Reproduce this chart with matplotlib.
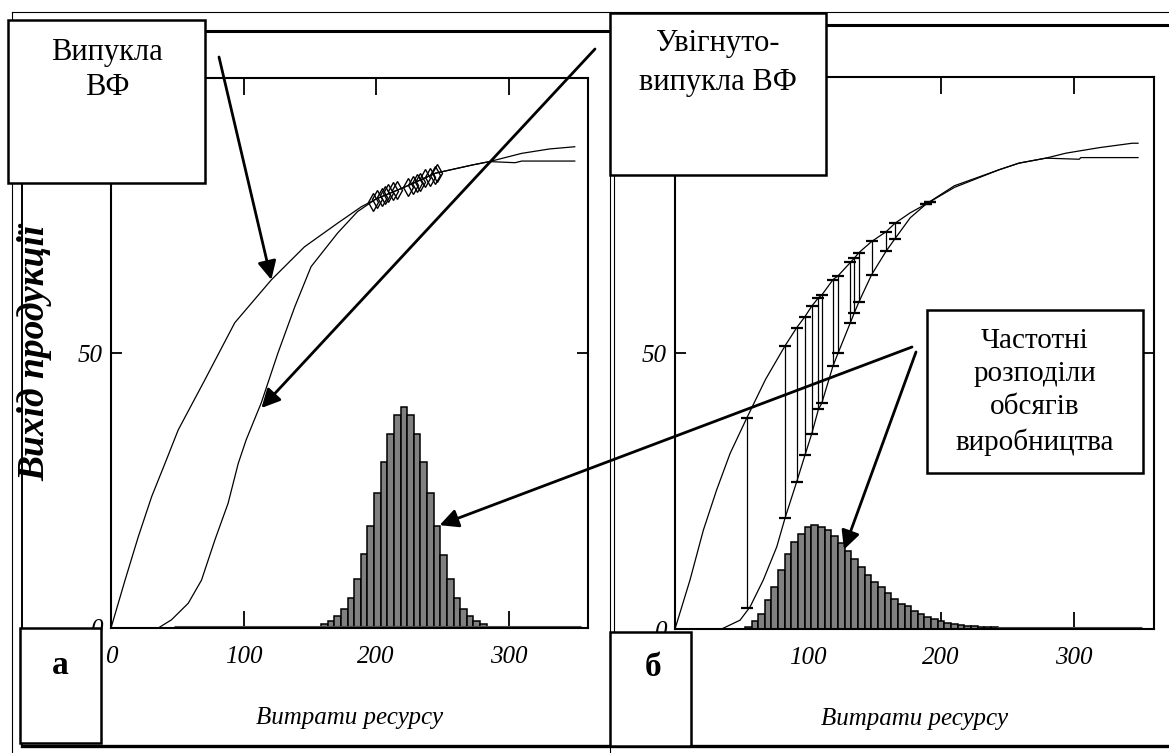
import numpy as np
import matplotlib.pyplot as plt
from matplotlib.lines import Line2D
from matplotlib.patches import Rectangle

plt.rcParams["font.family"] = ["Liberation Serif", "DejaVu Serif"]

W, H = 1169, 753

# panel "а": convex production function and concave-convex one
x_convex_a = [0, 10.6, 20.6, 30.7, 40.7, 50.7, 70.8, 93.4, 121, 146, 171, 189, 200, 220,
              245, 273, 285.6, 310, 331, 350]
y_convex_a = [0, 8.7, 16.6, 23.9, 29.9, 36, 45.1, 55.5, 63.3, 69.3, 73.6, 76.6, 78, 80,
              82.7, 84.2, 84.8, 86.3, 87.1, 87.5]
x_sigm_a = [0, 35.7, 45.7, 58.3, 68.3, 78.4, 88.4, 96, 102, 113.5, 126, 138.7, 151, 171,
            186, 200, 220, 245, 273, 285.6, 305, 310, 350]
y_sigm_a = [0, 0, 1.5, 4.5, 8.7, 16, 22.7, 29.9, 34.2, 41, 50, 58.4, 65.7, 71.8,
            75.7, 78, 80, 82.7, 84.2, 84.8, 84.6, 84.9, 84.9]

# sampled output points on the common part of the curves
x_diam_a = [197.7, 200.8, 204.5, 206.8, 209.1, 213, 216, 224.2, 228, 231, 233, 237, 241, 244.5, 246]
y_diam_a = [77.5, 78, 78.4, 78.7, 79.1, 79.5, 79.6, 80.2, 80.5, 80.9, 81.1, 81.8, 82, 82.4, 82.7]

# frequency distribution of output, panel "а" (bin centres, bin width 5)
hist_a_x = [161, 166, 171, 176, 181, 186, 191, 196, 201, 206, 211, 216, 221,
            226, 231, 236, 241, 246, 251, 256, 261, 266, 271, 276, 281]
hist_a_h = [0.7, 1.3, 2.1, 3.4, 5.5, 9.0, 13.5, 18.5, 24.5, 30.1, 35.3, 38.8, 40.1,
            38.8, 35.3, 30.1, 24.5, 18.5, 13.3, 9.0, 5.5, 3.4, 2.1, 1.3, 0.7]

# panel "б": the same two functions
x_conc_b = [0, 11.3, 21.3, 31.3, 41.4, 53.9, 68, 82.7, 91.5, 97.7, 102.8, 107.8, 110.3,
            118.8, 122.6, 131.8, 134.8, 138.3, 147.8, 158.8, 165.3, 176.8, 188.8, 210,
            243.6, 258.6, 278.7, 293.8, 318.8, 343.6, 348]
y_conc_b = [0, 8.9, 17.9, 25.2, 31.8, 38.2, 45.2, 51.3, 54.6, 56.6, 58.5, 60, 60.5,
            63.3, 64, 66.4, 67.2, 68.2, 70.2, 72, 73.5, 75.4, 77, 80,
            83.2, 84.4, 85.3, 86.2, 87.2, 88, 88]
x_sigm_b = [0, 35, 48.9, 56.4, 66.4, 76.5, 82.7, 91.5, 97.7, 102.8, 107.8, 110.3,
            118.8, 122.6, 131.8, 134.8, 138.3, 147.8, 158.8, 165.3, 176.8, 188.8, 210,
            243.6, 258.6, 278.7, 303.8, 305, 348]
y_sigm_b = [0, 0, 1.6, 4, 8.9, 14.9, 20.1, 26.7, 31.5, 35.4, 39.8, 40.9,
            47.7, 50, 55.5, 57.3, 59.3, 64.2, 68.5, 70.7, 74.5, 77, 80.3,
            83.2, 84.4, 85.3, 85.1, 85.4, 85.4]

# spread between the two functions at sampled inputs
x_err_b = [53.9, 82.7, 91.5, 97.7, 102.8, 107.8, 110.3, 118.8, 122.6, 131.8, 134.8, 138.3,
           147.8, 158.8, 165.3, 188.8, 191.8]
hi_err_b = [38.2, 51.3, 54.6, 56.6, 58.5, 60, 60.5, 63.3, 64, 66.4, 67.2, 68.2,
            70.2, 72, 73.5, 77, 77.4]
lo_err_b = [3.8, 20.1, 26.7, 31.5, 35.4, 39.8, 40.9, 47.7, 50, 55.5, 57.3, 59.3,
            64.2, 68.5, 70.7, 77, 77.4]

hist_b_x = [55, 60, 65, 70, 75, 80, 85, 90, 95, 100, 105, 110, 115, 120, 125, 130, 135, 140, 145,
            150, 155, 160, 165, 170, 175, 180, 185, 190, 195, 200, 205, 210, 215, 220, 225, 230, 235, 240]
hist_b_h = [0.4, 1.5, 2.7, 5.2, 7.6, 10.6, 13.5, 15.8, 17.3, 18.5, 18.9, 18.5, 18.0, 16.8, 15.5,
            14.1, 12.7, 11.2, 9.8, 8.6, 7.6, 6.5, 5.5, 4.5, 4.1, 3.3, 2.7, 2.2, 1.8, 1.5,
            1.1, 0.9, 0.8, 0.6, 0.5, 0.4, 0.4, 0.4]

xticks = [0, 100, 200, 300]
yticks = [0, 50]

fig = plt.figure(figsize=(W / 100, H / 100), dpi=100)
ax_a = fig.add_axes([111 / W, 1 - 628 / H, 477 / W, 550 / H])
ax_b = fig.add_axes([675 / W, 1 - 629 / H, 479 / W, 552 / H])

tick_font = dict(family="Liberation Serif", style="italic", size=18)

for ax in (ax_a, ax_b):
    ax.set_facecolor("none")
    ax.set_xlim(0, 360)
    ax.set_ylim(0, 100)
    ax.set_axisbelow(True)
    ax.set_xticks(xticks)
    ax.set_yticks(yticks)
    ax.set_xticklabels([str(t) for t in xticks], fontdict=tick_font)
    ax.set_yticklabels([str(t) for t in yticks], fontdict=tick_font)
    ax.tick_params(direction="in", top=True, right=True, width=1.3)
    ax.tick_params(axis="x", length=12, pad=13)
    ax.tick_params(axis="y", length=8, pad=6)
    for s in ax.spines.values():
        s.set_linewidth(1.5)
    ax.set_xlabel("Витрати ресурсу", family="Liberation Serif", style="italic",
                  size=18, va="center")
    ax.xaxis.set_label_coords(0.5, -0.163)

# panel а
ax_a.plot(x_convex_a, y_convex_a, color="k", lw=0.9)
ax_a.plot(x_sigm_a, y_sigm_a, color="k", lw=0.9)
ax_a.plot(x_diam_a, y_diam_a, ls="none", marker="d", ms=9, mfc="none", mec="k", mew=1)
ax_a.hlines(0.35, 47.5, 355, color="0.3", lw=0.8)
ax_a.bar(hist_a_x, hist_a_h, width=5, color="#808080", edgecolor="k", lw=1.1)
ax_a.set_ylabel("Вихід продукції", family="Liberation Serif", style="italic",
                weight="bold", size=27, va="center")
ax_a.yaxis.set_label_coords(-0.16, 0.5)

# panel б
ax_b.plot(x_conc_b, y_conc_b, color="k", lw=0.9)
ax_b.plot(x_sigm_b, y_sigm_b, color="k", lw=0.9)
ax_b.vlines(x_err_b, lo_err_b, hi_err_b, color="k", lw=0.9)
ax_b.plot(x_err_b, hi_err_b, ls="none", marker="_", ms=9, mew=1.6, color="k")
ax_b.plot(x_err_b, lo_err_b, ls="none", marker="_", ms=9, mew=1.6, color="k")
ax_b.hlines(0.35, 242, 351, color="0.3", lw=0.8)
ax_b.bar(hist_b_x, hist_b_h, width=5, color="#808080", edgecolor="k", lw=1.1)

# arrows from the captions to the curves and histograms
arrow = dict(arrowstyle="-|>", color="k", lw=2, mutation_scale=28, shrinkA=0, shrinkB=0)
ax_a.annotate("", xy=(121, 63.3), xytext=(219, H - 57), textcoords="figure pixels",
              arrowprops=arrow, annotation_clip=False)
ax_a.annotate("", xy=(113.5, 40), xytext=(595, H - 49), textcoords="figure pixels",
              arrowprops=arrow, annotation_clip=False)
ax_a.annotate("", xy=(248, 18.7), xytext=(912, H - 347), textcoords="figure pixels",
              arrowprops=arrow, annotation_clip=False)
ax_b.annotate("", xy=(127, 14.4), xytext=(916, H - 352), textcoords="figure pixels",
              arrowprops=arrow, annotation_clip=False)


def fig_line(x0, y0, x1, y1, lw):
    fig.add_artist(Line2D([x0 / W, x1 / W], [1 - y0 / H, 1 - y1 / H],
                          transform=fig.transFigure, color="k", lw=lw, zorder=3))


def fig_box(x0, y0, x1, y1):
    fig.add_artist(Rectangle((x0 / W, 1 - y1 / H), (x1 - x0) / W, (y1 - y0) / H,
                             transform=fig.transFigure, facecolor="white",
                             edgecolor="k", lw=1.8, zorder=4))


def fig_text(x, y, s, **kw):
    fig.text(x / W, 1 - y / H, s, ha="center", va="center", zorder=5,
             family="Liberation Serif", **kw)


# page frame lines
fig_line(12, 12, W, 12, 0.8)
fig_line(12, 12, 12, H, 0.8)
fig_line(22, 31, 22, 746, 1.4)
fig_line(610, 12, 610, H, 0.8)
fig_line(614, 25, 614, 746, 0.8)
fig_line(22, 31, 610, 31, 2.2)
fig_line(614, 25, W, 25, 2.2)
fig_line(22, 746, W, 746, 2.4)

# caption boxes
fig_box(8, 20, 205, 183)
fig_text(107, 70, "Випукла\nВФ", size=22, linespacing=1.26)
fig_box(610, 13, 826, 175)
fig_text(718, 63, "Увігнуто-\nвипукла ВФ", size=22, linespacing=1.45)
fig_box(927, 310, 1143, 473)
fig_text(1035, 392, "Частотні\nрозподіли\nобсягів\nвиробництва", size=21, linespacing=1.35)
fig_box(20, 628, 101, 743)
fig_text(60, 665, "а", size=24, weight="bold")
fig_box(610, 632, 691, 746)
fig_text(653, 667, "б", size=24, weight="bold")

fig.savefig("out.png", dpi=100)
